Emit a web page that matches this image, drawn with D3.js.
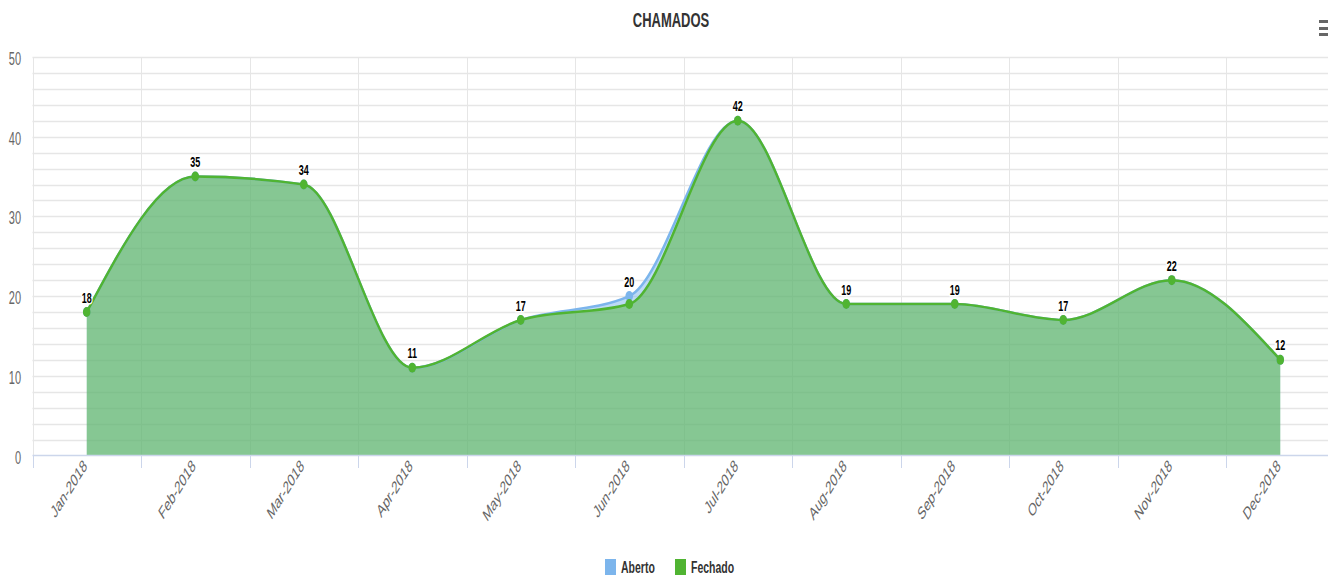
<!DOCTYPE html>
<html>
<head>
<meta charset="utf-8">
<script src="https://cdn.jsdelivr.net/npm/d3@7"></script>
<style>
  body { margin: 0; background: #fff; }
  svg { display: block; font-family: "Liberation Sans", Arial, sans-serif; }
</style>
</head>
<body>
<svg width="1328" height="576"></svg>
<script>
// chart data
const months = ['Jan-2018', 'Feb-2018', 'Mar-2018', 'Apr-2018', 'May-2018', 'Jun-2018',
  'Jul-2018', 'Aug-2018', 'Sep-2018', 'Oct-2018', 'Nov-2018', 'Dec-2018'];
const aberto = [18, 35, 34, 11, 17, 20, 42, 19, 19, 17, 22, 12];
const fechado = [18, 35, 34, 11, 17, 19, 42, 19, 19, 17, 22, 12];
const yLabels = [0, 10, 20, 30, 40, 50];
const seriesNames = ['Aberto', 'Fechado'];
const seriesColors = ['#7cb5ec', '#50b432'];

// the picture is stretched vertically, so text gets the same stretch
const SY = 1.6;

const svg = d3.select('svg');

// scales
const scaleX = d3.scaleBand()
  .domain(months)
  .range([32.5, 1334.5]);

const scaleY = d3.scaleLinear()
  .domain([0, 50])
  .range([455.5, 57]);

const cx = m => scaleX(m) + scaleX.bandwidth() / 2;

// horizontal grid lines, every 2
const grid = svg.append('g').attr('class', 'grid');
grid.selectAll('line.h')
  .data(d3.range(2, 51, 2))
  .enter()
  .append('line')
  .attr('x1', 32.5)
  .attr('x2', 1328)
  .attr('y1', d => Math.round(scaleY(d)) + 0.5)
  .attr('y2', d => Math.round(scaleY(d)) + 0.5)
  .attr('stroke', '#e6e6e6')
  .attr('stroke-width', 1.5);

// vertical grid lines on category boundaries
grid.selectAll('line.v')
  .data(months)
  .enter()
  .append('line')
  .attr('x1', d => Math.round(scaleX(d)) + 0.5)
  .attr('x2', d => Math.round(scaleX(d)) + 0.5)
  .attr('y1', 57)
  .attr('y2', 455.5)
  .attr('stroke', '#e6e6e6')
  .attr('stroke-width', 1);

// areas and lines
const area = d3.area()
  .x((d, i) => cx(months[i]))
  .y0(scaleY(0))
  .y1(d => scaleY(d))
  .curve(d3.curveMonotoneX);

const line = d3.line()
  .x((d, i) => cx(months[i]))
  .y(d => scaleY(d))
  .curve(d3.curveMonotoneX);

[aberto, fechado].forEach((values, s) => {
  svg.append('path')
    .attr('d', area(values))
    .attr('fill', seriesColors[s])
    .attr('fill-opacity', 0.5);
});

[aberto, fechado].forEach((values, s) => {
  svg.append('path')
    .attr('d', line(values))
    .attr('fill', 'none')
    .attr('stroke', seriesColors[s])
    .attr('stroke-width', 2.5);

  svg.append('g')
    .selectAll('ellipse')
    .data(values)
    .enter()
    .append('ellipse')
    .attr('cx', (d, i) => cx(months[i]))
    .attr('cy', d => scaleY(d))
    .attr('rx', 3.8)
    .attr('ry', 5)
    .attr('fill', seriesColors[s]);
});

// x axis line and ticks
svg.append('line')
  .attr('x1', 32.5)
  .attr('x2', 1328)
  .attr('y1', 455.5)
  .attr('y2', 455.5)
  .attr('stroke', '#ccd6eb')
  .attr('stroke-width', 1.5);

svg.append('g')
  .selectAll('line')
  .data(months)
  .enter()
  .append('line')
  .attr('x1', d => Math.round(scaleX(d)) + 0.5)
  .attr('x2', d => Math.round(scaleX(d)) + 0.5)
  .attr('y1', 455.5)
  .attr('y2', 468)
  .attr('stroke', '#ccd6eb');

// x labels, rotated
svg.append('g')
  .selectAll('g')
  .data(months)
  .enter()
  .append('g')
  .attr('transform', d => `translate(${cx(d) + 1}, 467) scale(1, ${SY}) rotate(-45)`)
  .append('text')
  .attr('text-anchor', 'end')
  .attr('font-size', 11)
  .attr('fill', '#666')
  .text(d => d);

// y labels
svg.append('g')
  .selectAll('g')
  .data(yLabels)
  .enter()
  .append('g')
  .attr('transform', d => `translate(21, ${scaleY(d)}) scale(1, ${SY})`)
  .append('text')
  .attr('y', 5)
  .attr('text-anchor', 'end')
  .attr('font-size', 11)
  .attr('fill', '#666')
  .text(d => d);

// data labels (Aberto is always on top)
svg.append('g')
  .selectAll('g')
  .data(aberto)
  .enter()
  .append('g')
  .attr('transform', (d, i) => `translate(${cx(months[i])}, ${scaleY(d) - 9.5}) scale(1, ${SY})`)
  .append('text')
  .attr('text-anchor', 'middle')
  .attr('font-size', 9)
  .attr('font-weight', 'bold')
  .attr('fill', '#000')
  .attr('stroke', '#fff')
  .attr('stroke-width', 2)
  .attr('paint-order', 'stroke')
  .text(d => d);

// title
svg.append('g')
  .attr('transform', `translate(671, 27) scale(1, 1.55)`)
  .append('text')
  .attr('text-anchor', 'middle')
  .attr('font-size', 13)
  .attr('font-weight', 'bold')
  .attr('fill', '#333')
  .text('CHAMADOS');

// menu icon
svg.append('g')
  .selectAll('rect')
  .data([20, 27, 33])
  .enter()
  .append('rect')
  .attr('x', 1319)
  .attr('y', d => d)
  .attr('width', 9)
  .attr('height', 3)
  .attr('fill', '#666');

// legend
const legendX = [605, 675];
const legend = svg.append('g')
  .selectAll('g')
  .data(seriesNames)
  .enter()
  .append('g')
  .attr('transform', (d, i) => `translate(${legendX[i]}, 0)`);

legend.append('rect')
  .attr('x', 0)
  .attr('y', 559)
  .attr('width', 11)
  .attr('height', 16)
  .attr('fill', (d, i) => seriesColors[i]);

legend.append('g')
  .attr('transform', `translate(16, 573) scale(1, ${SY})`)
  .append('text')
  .attr('font-size', 10.5)
  .attr('font-weight', 'bold')
  .attr('fill', '#333')
  .text(d => d);
</script>
</body>
</html>
